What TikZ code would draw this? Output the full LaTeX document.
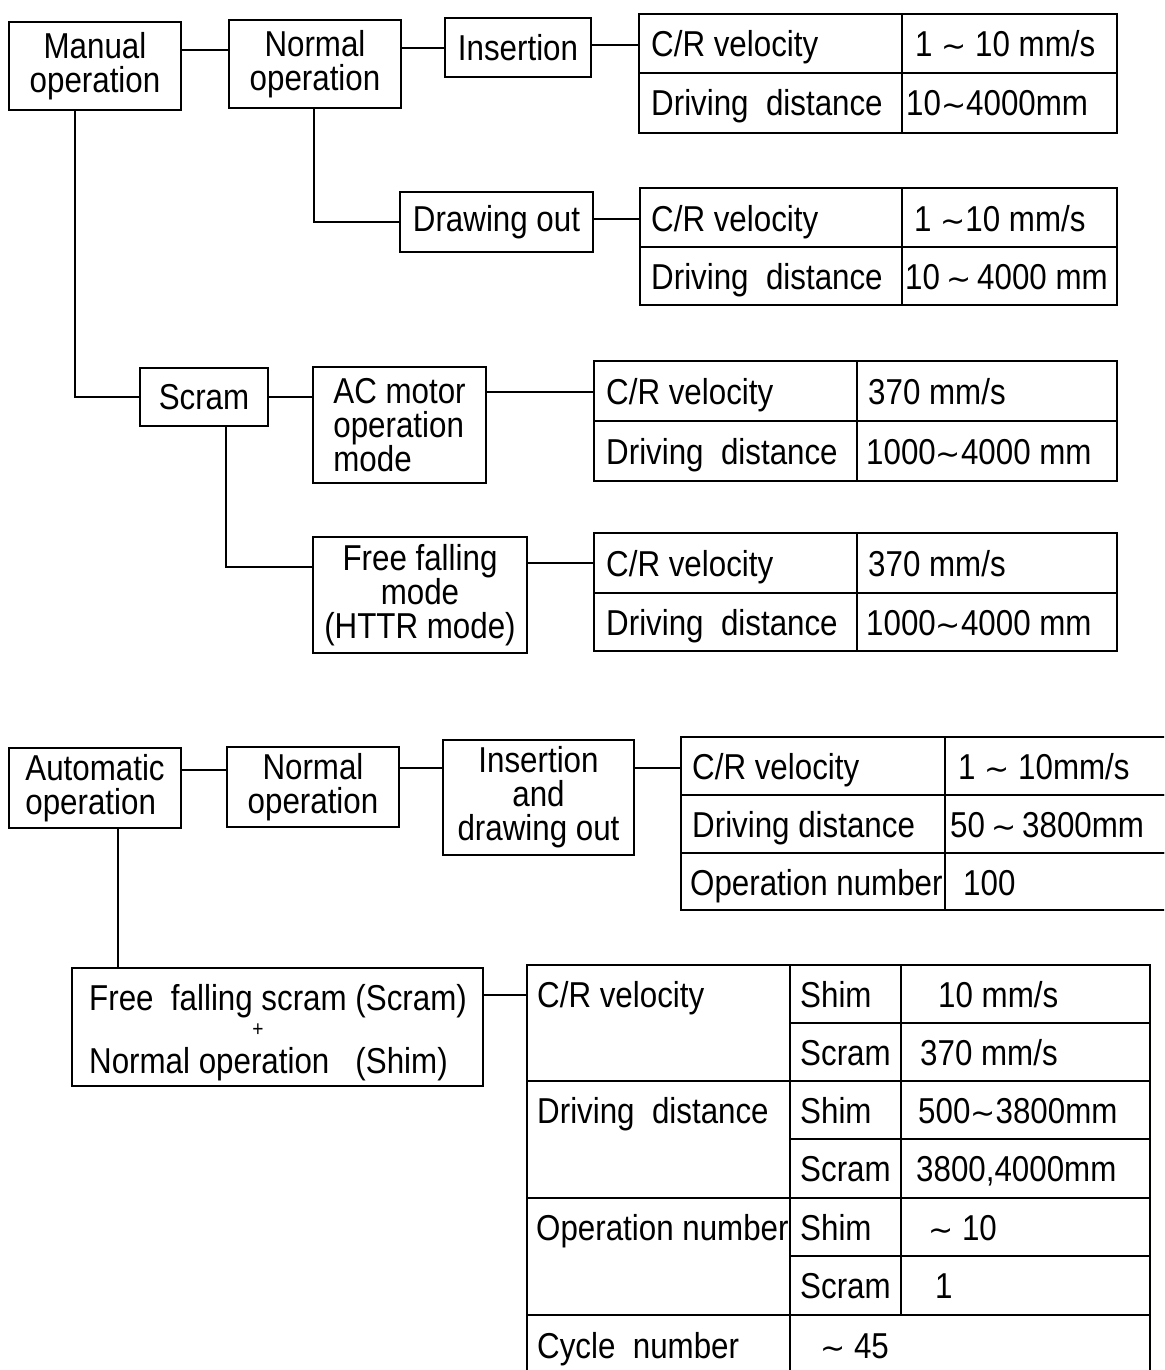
\documentclass[tikz,border=0pt]{standalone}
\usepackage{fontspec}
\setmainfont{Liberation Sans}[FakeStretch=0.87]
\newfontfamily\tildefont{DejaVu Sans}
\newcommand\bfont{\fontsize{36}{34}\selectfont}
\tikzset{
  bx/.style={draw, line width=2.4pt, rectangle, inner sep=0pt, font=\bfont},
  cellsty/.style={draw, line width=2.4pt, rectangle, inner sep=0pt},
  txt/.style={inner sep=0pt, font=\bfont},
  conn/.style={line width=2.4pt},
}
% name x1 y1 x2 y2 align text
\newcommand\flowbox[7]{\node[bx, align=#6, minimum width={(#4)-(#2)}, minimum height={(#5)-(#3)}] (#1) at ({((#2)+(#4))/2},{((#3)+(#5))/2}) {#7};}
% name x1 y1 x2 y2
\newcommand\cellbox[5]{\node[cellsty, minimum width={(#4)-(#2)}, minimum height={(#5)-(#3)}] (#1) at ({((#2)+(#4))/2},{((#3)+(#5))/2}) {};}
% name x baseline text
\newcommand\celltxt[4]{\node[txt, anchor=base west] (#1) at (#2,#3) {#4};}
\newcommand\tl{{\fontsize{30}{30}\tildefont ∼}}
\begin{document}
\begin{tikzpicture}[x=1pt,y=-1pt]
\useasboundingbox (0,0) rectangle (1164,1370);
\fill[white] (0,0) rectangle (1164,1370);
\clip (0,0) rectangle (1164,1370);

% ---------- top: manual operation ----------
\flowbox{manual}{9}{22}{181}{110}{center}{Manual\\operation}
\flowbox{normalA}{229}{20}{401}{108}{center}{Normal\\operation}
\flowbox{insA}{445}{18}{591}{77}{center}{Insertion}
\flowbox{drawA}{400}{192}{593}{252}{center}{Drawing out}
\flowbox{scram}{140}{368}{268}{426}{center}{Scram}
\flowbox{acmotor}{313}{367}{486}{483}{left}{AC motor\\operation\\mode}
\flowbox{freefall}{313}{537}{527}{653}{center}{Free falling\\mode\\(HTTR mode)}

% table 1
\cellbox{t1a}{639}{14}{902}{73}
\cellbox{t1b}{902}{14}{1117}{73}
\cellbox{t1c}{639}{73}{902}{133}
\cellbox{t1d}{902}{73}{1117}{133}
\celltxt{t1at}{651}{57}{C/R velocity}
\celltxt{t1bt}{915}{57}{1 \tl{} 10 mm/s}
\celltxt{t1ct}{651}{116}{Driving\ \ distance}
\celltxt{t1dt}{906}{116}{10\tl{}4000mm}

% table 2
\cellbox{t2a}{640}{188}{902}{247}
\cellbox{t2b}{902}{188}{1117}{247}
\cellbox{t2c}{640}{247}{902}{305}
\cellbox{t2d}{902}{247}{1117}{305}
\celltxt{t2at}{651}{231}{C/R velocity}
\celltxt{t2bt}{914}{231}{1 \tl{}10 mm/s}
\celltxt{t2ct}{651}{289}{Driving\ \ distance}
\celltxt{t2dt}{905}{289}{10\,\tl\,4000 mm}

% table 3
\cellbox{t3a}{594}{361}{857}{421}
\cellbox{t3b}{857}{361}{1117}{421}
\cellbox{t3c}{594}{421}{857}{481}
\cellbox{t3d}{857}{421}{1117}{481}
\celltxt{t3at}{606}{404}{C/R velocity}
\celltxt{t3bt}{868}{404}{370 mm/s}
\celltxt{t3ct}{606}{464}{Driving\ \ distance}
\celltxt{t3dt}{866}{464}{1000\tl{}4000 mm}

% table 4
\cellbox{t4a}{594}{533}{857}{593}
\cellbox{t4b}{857}{533}{1117}{593}
\cellbox{t4c}{594}{593}{857}{651}
\cellbox{t4d}{857}{593}{1117}{651}
\celltxt{t4at}{606}{576}{C/R velocity}
\celltxt{t4bt}{868}{576}{370 mm/s}
\celltxt{t4ct}{606}{635}{Driving\ \ distance}
\celltxt{t4dt}{866}{635}{1000\tl{}4000 mm}

% connectors top
\draw[conn] (manual.east |- 0,50) -- (normalA.west |- 0,50);
\draw[conn] (normalA.east |- 0,48) -- (insA.west |- 0,48);
\draw[conn] (insA.east |- 0,45) -- (t1a.west |- 0,45);
\draw[conn] (normalA.south -| 314,0) |- (drawA.west);
\draw[conn] (drawA.east |- 0,219) -- (t2a.west |- 0,219);
\draw[conn] (manual.south -| 75,0) |- (scram.west);
\draw[conn] (scram.east) -- (acmotor.west |- scram.east);
\draw[conn] (acmotor.east |- 0,392) -- (t3a.west |- 0,392);
\draw[conn] (scram.south -| 226,0) |- (freefall.west |- 0,567);
\draw[conn] (freefall.east |- 0,563) -- (t4a.west |- 0,563);

% ---------- bottom: automatic operation ----------
\flowbox{auto}{9}{748}{181}{828}{left}{Automatic\\operation}
\flowbox{normalB}{227}{747}{399}{827}{center}{Normal\\operation}
\flowbox{insdraw}{443}{740}{634}{855}{center}{Insertion\\and\\drawing out}
\flowbox{ffs}{72}{968}{483}{1086}{left}{}
\celltxt{ffs1}{89}{1010}{Free\ \ falling scram (Scram)}
\node[txt, anchor=base, font=\fontsize{22}{22}\selectfont] (ffsplus) at (258,1036) {+};
\celltxt{ffs2}{89}{1073}{Normal operation\ \ \ (Shim)}

% table 5
\cellbox{t5a}{681}{737}{945}{795}
\cellbox{t5b}{945}{737}{1190}{795}
\cellbox{t5c}{681}{795}{945}{853}
\cellbox{t5d}{945}{795}{1190}{853}
\cellbox{t5e}{681}{853}{945}{910}
\cellbox{t5f}{945}{853}{1190}{910}
\celltxt{t5at}{692}{779}{C/R velocity}
\celltxt{t5bt}{958}{779}{1 \tl{} 10mm/s}
\celltxt{t5ct}{692}{837}{Driving distance}
\celltxt{t5dt}{950}{837}{50\,\tl\,3800mm}
\celltxt{t5et}{690}{895}{Operation number}
\celltxt{t5ft}{963}{895}{100}

% table 6
\cellbox{t6L1}{527}{965}{790}{1081}
\cellbox{t6S1}{790}{965}{901}{1023}
\cellbox{t6V1}{901}{965}{1150}{1023}
\cellbox{t6S2}{790}{1023}{901}{1081}
\cellbox{t6V2}{901}{1023}{1150}{1081}
\cellbox{t6L2}{527}{1081}{790}{1198}
\cellbox{t6S3}{790}{1081}{901}{1139}
\cellbox{t6V3}{901}{1081}{1150}{1139}
\cellbox{t6S4}{790}{1139}{901}{1198}
\cellbox{t6V4}{901}{1139}{1150}{1198}
\cellbox{t6L3}{527}{1198}{790}{1315}
\cellbox{t6S5}{790}{1198}{901}{1256}
\cellbox{t6V5}{901}{1198}{1150}{1256}
\cellbox{t6S6}{790}{1256}{901}{1315}
\cellbox{t6V6}{901}{1256}{1150}{1315}
\cellbox{t6L4}{527}{1315}{790}{1380}
\cellbox{t6V7}{790}{1315}{1150}{1380}
\celltxt{t6L1t}{537}{1007}{C/R velocity}
\celltxt{t6S1t}{800}{1007}{Shim}
\celltxt{t6V1t}{938}{1007}{10 mm/s}
\celltxt{t6S2t}{800}{1065}{Scram}
\celltxt{t6V2t}{920}{1065}{370 mm/s}
\celltxt{t6L2t}{537}{1123}{Driving\ \ distance}
\celltxt{t6S3t}{800}{1123}{Shim}
\celltxt{t6V3t}{918}{1123}{500\tl{}3800mm}
\celltxt{t6S4t}{800}{1181}{Scram}
\celltxt{t6V4t}{916}{1181}{3800,4000mm}
\celltxt{t6L3t}{536}{1240}{Operation number}
\celltxt{t6S5t}{800}{1240}{Shim}
\celltxt{t6V5t}{928}{1240}{\tl{} 10}
\celltxt{t6S6t}{800}{1298}{Scram}
\celltxt{t6V6t}{935}{1298}{1}
\celltxt{t6L4t}{537}{1358}{Cycle\ \ number}
\celltxt{t6V7t}{820}{1358}{\tl{} 45}

% connectors bottom
\draw[conn] (auto.east |- 0,770) -- (normalB.west |- 0,770);
\draw[conn] (normalB.east |- 0,768) -- (insdraw.west |- 0,768);
\draw[conn] (insdraw.east |- 0,768) -- (t5a.west |- 0,768);
\draw[conn] (auto.south -| 118,0) -- (ffs.north -| 118,0);
\draw[conn] (ffs.east |- 0,995) -- (t6L1.west |- 0,995);
\end{tikzpicture}
\end{document}
